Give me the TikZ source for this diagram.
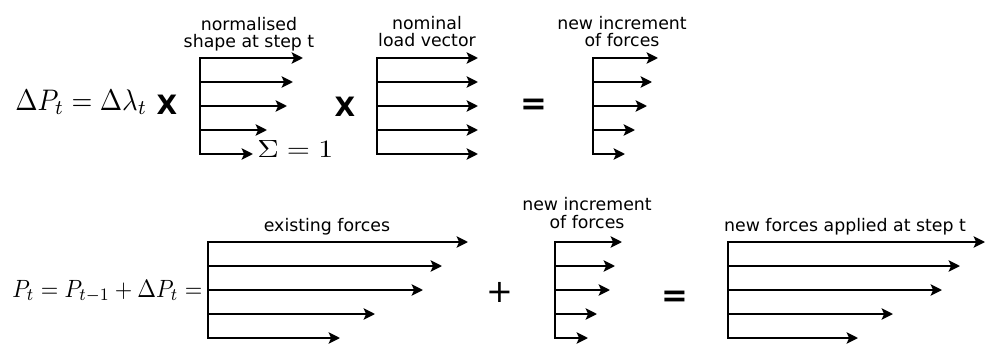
\documentclass[tikz,border=0pt]{standalone}
\usepackage[no-math]{fontspec}
\usetikzlibrary{arrows.meta}
\newfontfamily\lblfont{DejaVu Sans}
\newfontfamily\opfont{DejaVu Sans}
\newcommand\forcefan[4]{%
  \coordinate (#1-top) at (#2,#3);
  \coordinate (#1-bot) at (#2,#3+96);
  \draw[spine] (#1-top) -- (#1-bot);
  \foreach \tx [count=\i from 0] in {#4} {
    \coordinate (#1-b\i) at (#2,#3+24*\i);
    \coordinate (#1-t\i) at (\tx,#3+24*\i);
    \draw[force] (#1-b\i) -- (#1-t\i);
  }}
\begin{document}
\begin{tikzpicture}[x=0.75pt,y=-0.75pt,
  force/.style={line width=1.8pt,-{Stealth[length=8.5pt,width=8.5pt,inset=1.8pt]}},
  spine/.style={line width=1.9pt,line cap=rect},
  lbl/.style={font=\lblfont\fontsize{13}{13}\selectfont, align=center, inner sep=0pt, anchor=base},
  op/.style={font=\opfont\bfseries\fontsize{20}{24}\selectfont, inner sep=0pt},
  eq/.style={font=\opfont\bfseries\fontsize{24}{28}\selectfont, inner sep=0pt},
  pl/.style={font=\opfont\fontsize{24}{28}\selectfont, inner sep=0pt},
  mth/.style={inner sep=0pt, anchor=base west}]
\fill[white] (0,0) rectangle (991,346);
\useasboundingbox (0,0) rectangle (991,346);
% top row
\node[mth] (dP) at (15,110) {\resizebox{99pt}{15.5pt}{$\Delta P_t = \Delta\lambda_t$}};
\node[op] (x1) at (167,105) {X};
\forcefan{A}{200}{58}{303,293,287,267,253}
\node[mth] (sum) at (257,157) {\resizebox{57pt}{12.75pt}{$\Sigma = 1$}};
\node[lbl] (lA) at (249,47.5) {normalised\\shape at step t};
\node[op] (x2) at (345,107) {X};
\forcefan{B}{377}{58}{478,478,478,478,478}
\node[lbl] (lB) at (427,46.7) {nominal\\load vector};
\node[eq] (eq1) at (534,107) {=};
\forcefan{C}{593}{58}{658,652,647,635,625}
\node[lbl] (lC) at (622,46.7) {new increment\\of forces};
% bottom row
\node[mth] (P) at (12,297) {\resizebox{142.5pt}{12.8pt}{$P_t = P_{t-1} + \Delta P_t =$}};
\forcefan{D}{208}{242}{468,442,423,375,340}
\node[lbl] (lD) at (327,231.7) {existing forces};
\node[pl] (plus) at (500,292) {+};
\forcefan{E}{555}{242}{622,615,610,597,588}
\node[lbl] (lE) at (587,228) {new increment\\of forces};
\node[eq] (eq2) at (675,299) {=};
\forcefan{F}{728}{242}{985,960,942,893,858}
\node[lbl] (lF) at (845,231.7) {new forces applied at step t};
\end{tikzpicture}
\end{document}
